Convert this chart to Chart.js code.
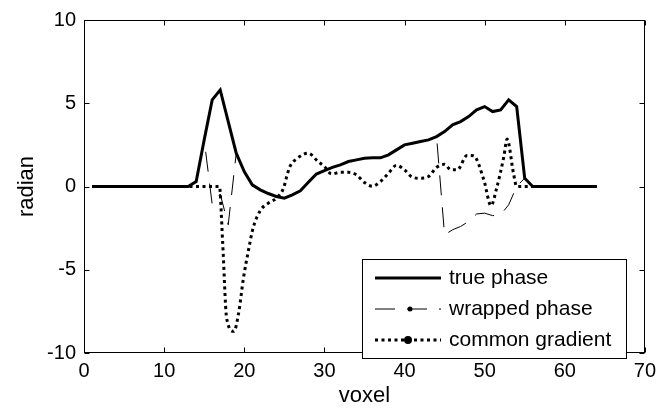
<!DOCTYPE html>
<html>
<head>
<meta charset="utf-8">
<script src="https://cdn.jsdelivr.net/npm/chart.js@4/dist/chart.umd.min.js"></script>
<style>
  html, body { margin: 0; padding: 0; background: #fff; }
</style>
</head>
<body>
<canvas id="chart" width="662" height="419"></canvas>
<script>
const voxels = [1, 2, 3, 4, 5, 6, 7, 8, 9, 10, 11, 12, 13, 14, 15, 16, 17, 18, 19, 20,
  21, 22, 23, 24, 25, 26, 27, 28, 29, 30, 31, 32, 33, 34, 35, 36, 37, 38, 39, 40,
  41, 42, 43, 44, 45, 46, 47, 48, 49, 50, 51, 52, 53, 54, 55, 56, 57, 58, 59, 60,
  61, 62, 63, 64];

const truePhase = [0, 0, 0, 0, 0, 0, 0, 0, 0, 0, 0, 0, 0, 0.3, 2.8, 5.2, 5.8, 3.9, 2.0, 0.9,
  0.1, -0.2, -0.42, -0.6, -0.7, -0.5, -0.26, 0.25, 0.75, 0.95, 1.15, 1.3, 1.5, 1.6, 1.7, 1.72, 1.72, 1.9, 2.2, 2.5,
  2.6, 2.7, 2.8, 3.0, 3.3, 3.7, 3.9, 4.2, 4.6, 4.8, 4.5, 4.6, 5.2, 4.8, 0.5, 0, 0, 0, 0, 0,
  0, 0, 0, 0];

const wrappedPhase = [0, 0, 0, 0, 0, 0, 0, 0, 0, 0, 0, 0, 0, 0.3, 2.8, -1.08, -0.45, -2.3, 2.0, 0.9,
  0.1, -0.2, -0.42, -0.6, -0.7, -0.5, -0.26, 0.25, 0.75, 0.95, 1.15, 1.3, 1.5, 1.6, 1.7, 1.72, 1.72, 1.9, 2.2, 2.5,
  2.6, 2.7, 2.8, 3.0, -2.9, -2.6, -2.4, -2.1, -1.65, -1.6, -1.75, -1.7, -1.1, 0, 0.5, 0, 0, 0, 0, 0,
  0, 0, 0, 0];

const gradientX = [1, 16.9, 17.3, 17.8, 18.7, 19.3, 19.9, 20.5, 21.1, 22, 23, 24, 24.9, 25.3, 25.7, 26.5,
  28, 29.2, 30, 30.9, 32, 33, 34, 35, 36, 37, 38, 39, 40, 41, 42, 43, 44, 45, 45.8, 46.6,
  47.8, 48.6, 49.9, 50.8, 51.5, 52.4, 52.8, 53.6, 54, 64];
const gradientY = [0, 0, -3.3, -7.9, -8.7, -7.6, -5.5, -3.9, -2.5, -1.45, -1.0, -0.7, -0.1, 0.6, 1.2, 1.65,
  2.0, 1.5, 1.2, 0.75, 0.85, 0.85, 0.7, 0.24, 0.02, 0.3, 0.8, 1.27, 1.0, 0.55, 0.5, 0.6, 1.15, 1.33, 1.0, 1.0,
  1.86, 1.85, 0.4, -1.15, -0.1, 1.8, 2.85, 0.8, 0, 0];

const xTicks = [0, 10, 20, 30, 40, 50, 60, 70];
const yTicks = [-10, -5, 0, 5, 10];
const seriesNames = ["true phase", "wrapped phase", "common gradient"];

const FONT = "'Liberation Sans', Arial, sans-serif";

// box around the plot with inward tick marks on all four sides
const frame = {
  id: "frame",
  afterDatasetsDraw(c) {
    const { ctx, chartArea: a, scales } = c;
    const L = Math.round(a.left) + 0.5, R = Math.round(a.right) - 0.5;
    const T = Math.round(a.top) + 0.5, B = Math.round(a.bottom) - 0.5;
    ctx.save();
    ctx.strokeStyle = "#000";
    ctx.lineWidth = 1;
    ctx.setLineDash([]);
    ctx.strokeRect(L, T, R - L, B - T);
    ctx.beginPath();
    xTicks.forEach(v => {
      const p = Math.round(scales.x.getPixelForValue(v)) + 0.5;
      ctx.moveTo(p, B); ctx.lineTo(p, B - 5);
      ctx.moveTo(p, T); ctx.lineTo(p, T + 5);
    });
    yTicks.forEach(v => {
      const p = Math.round(scales.y.getPixelForValue(v)) + 0.5;
      ctx.moveTo(L, p); ctx.lineTo(L + 5, p);
      ctx.moveTo(R, p); ctx.lineTo(R - 5, p);
    });
    ctx.stroke();
    ctx.restore();
  }
};

// matlab-style legend box in the lower right corner
const boxLegend = {
  id: "boxLegend",
  afterDraw(c) {
    const { ctx } = c;
    const x0 = 362, y0 = 259, w = 265, h = 100;
    ctx.save();
    ctx.fillStyle = "#fff";
    ctx.fillRect(x0, y0, w, h);
    ctx.strokeStyle = "#000";
    ctx.lineWidth = 1;
    ctx.strokeRect(x0 + 0.5, y0 + 0.5, w - 1, h - 1);

    const rows = [278, 309, 340];
    const ds = c.data.datasets;
    rows.forEach((y, i) => {
      const d = ds[i];
      ctx.beginPath();
      ctx.strokeStyle = d.borderColor;
      ctx.lineWidth = d.borderWidth;
      ctx.setLineDash(d.borderDash || []);
      ctx.moveTo(375, y);
      ctx.lineTo(441, y);
      ctx.stroke();
      ctx.setLineDash([]);
      if (i > 0) {
        ctx.beginPath();
        ctx.fillStyle = "#000";
        ctx.arc(i === 1 ? 410 : 408, y, i === 1 ? 2.5 : 4, 0, Math.PI * 2);
        ctx.fill();
      }
      ctx.fillStyle = "#000";
      ctx.font = "21px " + FONT;
      ctx.textBaseline = "middle";
      ctx.textAlign = "left";
      ctx.fillText(d.label, 449, y);
    });
    ctx.restore();
  }
};

new Chart(document.getElementById("chart"), {
  type: "line",
  data: {
    datasets: [
      {
        label: seriesNames[0],
        data: voxels.map((v, i) => ({ x: v, y: truePhase[i] })),
        borderColor: "#000",
        borderWidth: 3,
        pointRadius: 0
      },
      {
        label: seriesNames[1],
        data: voxels.map((v, i) => ({ x: v, y: wrappedPhase[i] })),
        borderColor: "#000",
        borderWidth: 1,
        borderDash: [20, 12],
        pointRadius: 0
      },
      {
        label: seriesNames[2],
        data: gradientX.map((v, i) => ({ x: v, y: gradientY[i] })),
        borderColor: "#000",
        borderWidth: 3,
        borderDash: [3, 3.5],
        borderCapStyle: "butt",
        cubicInterpolationMode: "monotone",
        pointRadius: 0
      }
    ]
  },
  options: {
    responsive: false,
    animation: false,
    devicePixelRatio: 1,
    layout: { padding: { top: 17, right: 13, left: 0, bottom: 0 } },
    plugins: { legend: { display: false }, tooltip: { enabled: false } },
    scales: {
      x: {
        type: "linear",
        min: 0,
        max: 70,
        afterBuildTicks: s => { s.ticks = xTicks.map(v => ({ value: v })); },
        afterFit: s => { s.height = 66; },
        grid: { display: false, drawTicks: false },
        border: { display: false },
        ticks: { color: "#000", padding: 6, maxRotation: 0, font: { family: FONT, size: 20 } },
        title: { display: true, text: "voxel", color: "#000", padding: { top: 10, bottom: 10 }, font: { family: FONT, size: 22 } }
      },
      y: {
        type: "linear",
        min: -10,
        max: 10,
        afterBuildTicks: s => { s.ticks = yTicks.map(v => ({ value: v })); },
        afterFit: s => { s.width = 84; },
        grid: { display: false, drawTicks: false },
        border: { display: false },
        ticks: { color: "#000", padding: 8, font: { family: FONT, size: 20 } },
        title: { display: true, text: "radian", color: "#000", padding: { top: 14, bottom: 14 }, font: { family: FONT, size: 22 } }
      }
    }
  },
  plugins: [frame, boxLegend]
});
</script>
</body>
</html>
